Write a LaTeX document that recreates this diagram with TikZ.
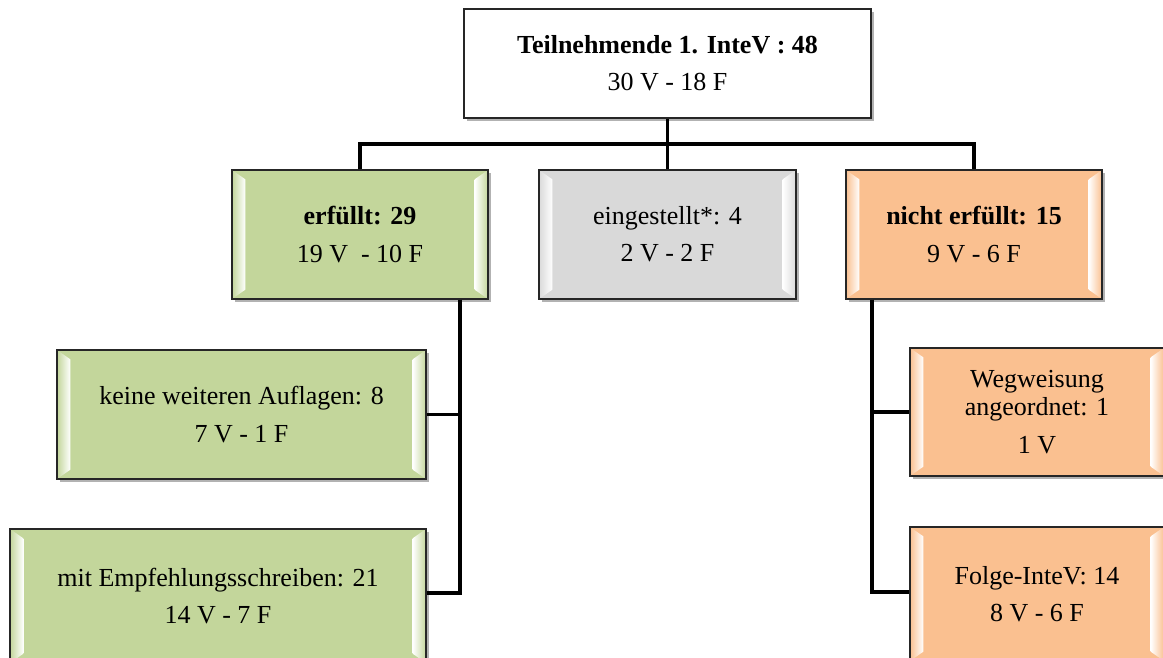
\documentclass[tikz,border=0pt]{standalone}
\usepackage{fontspec}
\setmainfont{Liberation Serif}
\usetikzlibrary{shadows,calc}
\definecolor{gfill}{HTML}{C3D69B}
\definecolor{grfill}{HTML}{D9D9D9}
\definecolor{ofill}{HTML}{FAC090}
\definecolor{edgec}{HTML}{262626}
\tikzset{
  conn/.style={line width=2.6pt, draw=black, line join=miter},
  basebox/.style={draw=edgec, line width=1pt, align=center, inner sep=0pt,
    font=\fontsize{19.5pt}{21pt}\selectfont,
    drop shadow={shadow xshift=2pt, shadow yshift=-2pt, opacity=0.3, fill=black}},
  bevelbox/.style={basebox, fill=#1, path picture={
      \path (path picture bounding box.north west) coordinate (pNW)
            (path picture bounding box.south west) coordinate (pSW)
            (path picture bounding box.north east) coordinate (pNE)
            (path picture bounding box.south east) coordinate (pSE);
      \shade[left color=#1, right color=white]
        (pNW) -- ([xshift=10pt,yshift=-7pt]pNW) -- ([xshift=10pt,yshift=7pt]pSW) -- (pSW) -- cycle;
      \shade[left color=white, right color=#1]
        (pNE) -- ([xshift=-10pt,yshift=-7pt]pNE) -- ([xshift=-10pt,yshift=7pt]pSE) -- (pSE) -- cycle;
  }},
}
\begin{document}
\begin{tikzpicture}[x=0.75pt,y=-0.75pt]
\path[fill=white,use as bounding box] (0,0) rectangle (1163,657);

\node[basebox, fill=white, minimum width=305.25pt, minimum height=81.75pt] (top) at (667.5,63.5)
  {\textbf{Teilnehmende 1. InteV : 48}\\[7pt]30 V - 18 F};

\node[bevelbox=gfill, minimum width=192pt, minimum height=96.75pt] (erf) at (360,234.5)
  {\textbf{erfüllt: 29}\\[7pt]19 V\ \ - 10 F};
\node[bevelbox=grfill, minimum width=192.75pt, minimum height=96.75pt] (ein) at (667.5,234.5)
  {eingestellt*: 4\\[7pt]2 V - 2 F};
\node[bevelbox=ofill, minimum width=192pt, minimum height=96.75pt] (nicht) at (974,234.5)
  {\textbf{nicht erfüllt: 15}\\[7pt]9 V - 6 F};

\node[bevelbox=gfill, minimum width=276.75pt, minimum height=96.75pt] (keine) at (241.5,414.5)
  {keine weiteren Auflagen: 8\\[7pt]7 V - 1 F};
\node[bevelbox=gfill, minimum width=312pt, minimum height=100.5pt] (mit) at (218,596)
  {mit Empfehlungsschreiben: 21\\[7pt]14 V - 7 F};

\node[bevelbox=ofill, minimum width=190.5pt, minimum height=96pt] (weg) at (1037,412)
  {Wegweisung\\angeordnet: 1\\[7pt]1 V};
\node[bevelbox=ofill, minimum width=190.5pt, minimum height=100.5pt] (folge) at (1037,594)
  {Folge-InteV: 14\\[7pt]8 V - 6 F};

\coordinate (hub) at (667.5,144);
\draw[conn] (top.south) -- (hub);
\draw[conn] (erf.north) |- (hub) -| (nicht.north);
\draw[conn] (hub) -- (ein.north);

\coordinate (gtr) at (460,299);
\coordinate (gb) at (0,593);
\draw[conn] (erf.south -| gtr) |- (keine.east);
\draw[conn] (erf.south -| gtr) |- (mit.east |- gb);

\coordinate (otr) at (872,298);
\coordinate (ob) at (0,592);
\draw[conn] (nicht.south -| otr) |- (weg.west);
\draw[conn] (nicht.south -| otr) |- (folge.west |- ob);
\end{tikzpicture}
\end{document}
